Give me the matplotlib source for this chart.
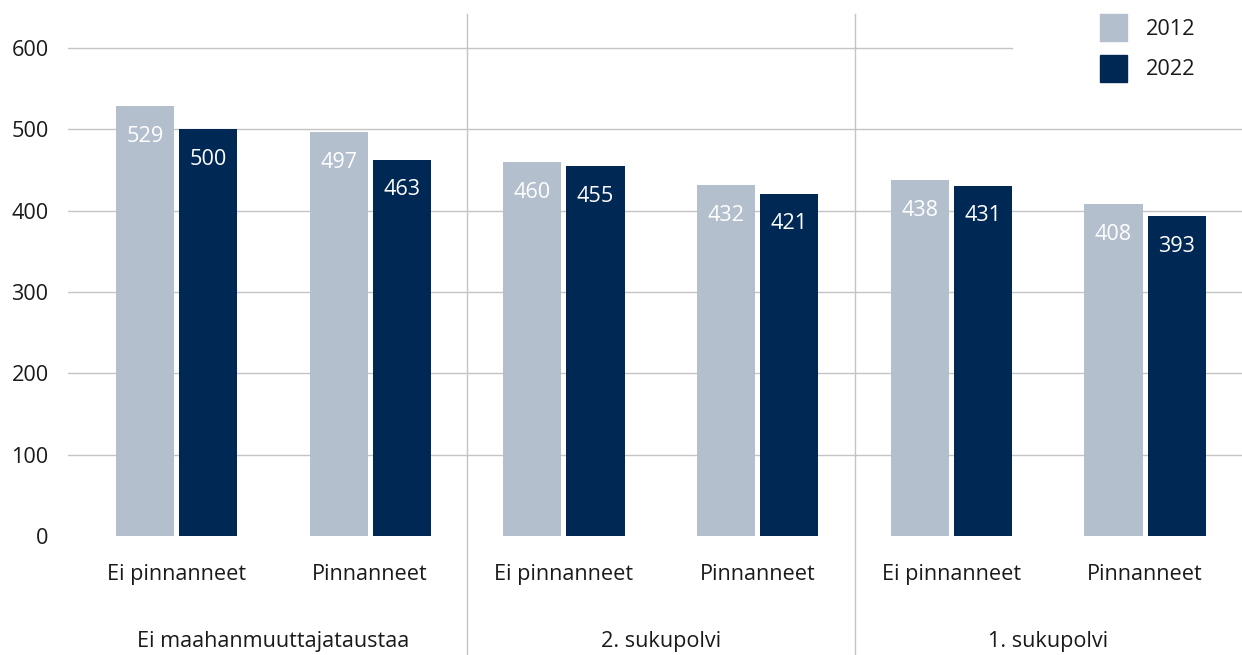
import numpy as np
import matplotlib
matplotlib.use("Agg")
import matplotlib.pyplot as plt
from matplotlib.patches import Patch
import matplotlib.transforms as mtransforms

plt.rcParams["font.family"] = ["Open Sans", "DejaVu Sans"]

# Data
categories = ["Ei pinnanneet", "Pinnanneet"] * 3
groups = ["Ei maahanmuuttajataustaa", "2. sukupolvi", "1. sukupolvi"]
values_2012 = [529, 497, 460, 432, 438, 408]
values_2022 = [500, 463, 455, 421, 431, 393]
years = ["2012", "2022"]

color_2012 = "#b3bfcd"
color_2022 = "#002855"
grid_color = "#c4c4c4"
text_color = "#1a1a1a"
fs = 15.6

fig = plt.figure(figsize=(12.42, 6.55), dpi=100)
ax = fig.add_axes([68 / 1242, 1 - 536 / 655, 1 - 68 / 1242, (536 - 14) / 655])

x = np.arange(len(categories))
w = 0.30
gap = 0.013
b1 = ax.bar(x - w / 2 - gap, values_2012, w, color=color_2012, zorder=2)
b2 = ax.bar(x + w / 2 + gap, values_2022, w, color=color_2022, zorder=2)

for bars, vals in ((b1, values_2012), (b2, values_2022)):
    for rect, v in zip(bars, vals):
        ax.annotate(str(v), (rect.get_x() + rect.get_width() / 2, v),
                    xytext=(0, -21.8), textcoords="offset points",
                    ha="center", va="center", color="white", fontsize=fs, zorder=3)

ax.set_xlim(-0.56, 5.5)
ax.set_ylim(0, 642)
yticks = [0, 100, 200, 300, 400, 500, 600]
ax.set_yticks(yticks)
ax.set_yticklabels([str(t) for t in yticks], fontsize=fs, color=text_color)
ax.set_xticks(x)
ax.set_xticklabels(categories, fontsize=fs, color=text_color)
ax.tick_params(axis="y", length=0, pad=14)
ax.tick_params(axis="x", length=0, pad=20)

# gridlines (top one stops at the legend)
for t in yticks[1:]:
    xmax = 0.804 if t == 600 else 1.0
    ax.axhline(t, xmin=0, xmax=xmax, color=grid_color, lw=1, zorder=1)

for s in ax.spines.values():
    s.set_visible(False)

# group separators
for sx in (1.5, 3.5):
    ax.axvline(sx, ymin=-0.23, ymax=1.0, color=grid_color, lw=1, clip_on=False, zorder=1)

# group labels
trans = mtransforms.blended_transform_factory(ax.transData, ax.transAxes)
for i, g in enumerate(groups):
    ax.text(2 * i + 0.5, 0, g, transform=trans + mtransforms.ScaledTranslation(0, -105 / 100, fig.dpi_scale_trans),
            ha="center", va="center", fontsize=fs, color=text_color)

handles = [Patch(color=color_2012), Patch(color=color_2022)]
fig.legend(handles, years, loc="upper left", bbox_to_anchor=(1100 / 1242, 1 - 14 / 655),
           frameon=False, fontsize=fs, handlelength=1.25, handleheight=1.55,
           handletextpad=0.85, labelspacing=0.62, borderpad=0, borderaxespad=0,
           labelcolor=text_color)

fig.savefig("out.png", dpi=100)
